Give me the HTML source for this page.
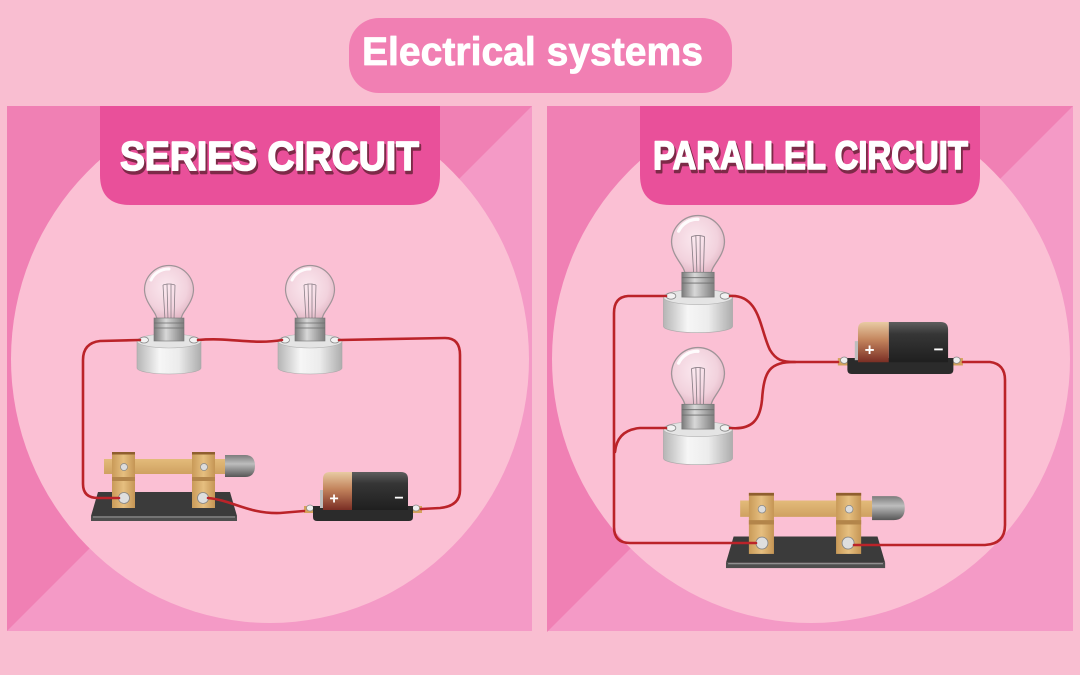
<!DOCTYPE html>
<html><head><meta charset="utf-8"><style>
html,body{margin:0;padding:0;background:#f9bed1;}
svg{display:block;}
</style></head><body>
<svg width="1080" height="675" viewBox="0 0 1080 675" xmlns="http://www.w3.org/2000/svg">
<defs>
  <linearGradient id="gBase" x1="0" x2="1" y1="0" y2="0">
    <stop offset="0" stop-color="#b5b5b5"/><stop offset=".35" stop-color="#f6f6f6"/><stop offset=".65" stop-color="#ececec"/><stop offset="1" stop-color="#adadad"/>
  </linearGradient>
  <linearGradient id="gCollar" x1="0" x2="1" y1="0" y2="0">
    <stop offset="0" stop-color="#7a7a7a"/><stop offset=".4" stop-color="#d8d8d8"/><stop offset="1" stop-color="#7e7e7e"/>
  </linearGradient>
  <radialGradient id="gGlass" cx=".45" cy=".4" r=".6">
    <stop offset="0" stop-color="#fbe8ef"/><stop offset=".7" stop-color="#f2d2dd"/><stop offset="1" stop-color="#e2b8c6"/>
  </radialGradient>
  <linearGradient id="gBrass" x1="0" x2="1" y1="0" y2="0">
    <stop offset="0" stop-color="#c99a58"/><stop offset=".5" stop-color="#e6bf80"/><stop offset="1" stop-color="#c59554"/>
  </linearGradient>
  <linearGradient id="gBar" x1="0" x2="0" y1="0" y2="1">
    <stop offset="0" stop-color="#e3bb7a"/><stop offset="1" stop-color="#cfa161"/>
  </linearGradient>
  <linearGradient id="gHandle" x1="0" x2="0" y1="0" y2="1">
    <stop offset="0" stop-color="#7c7c7c"/><stop offset=".4" stop-color="#bdbdbd"/><stop offset="1" stop-color="#565656"/>
  </linearGradient>
  <linearGradient id="gCopper" x1="0" x2="0" y1="0" y2="1">
    <stop offset="0" stop-color="#e8cba3"/><stop offset=".45" stop-color="#c2835c"/><stop offset="1" stop-color="#7a2e24"/>
  </linearGradient>
  <linearGradient id="gBlack" x1="0" x2="0" y1="0" y2="1">
    <stop offset="0" stop-color="#5e5e5e"/><stop offset=".3" stop-color="#363636"/><stop offset="1" stop-color="#1f1f1f"/>
  </linearGradient>
  <clipPath id="cpL"><rect x="7" y="106" width="525" height="525"/></clipPath>
  <clipPath id="cpR"><rect x="547" y="106" width="526" height="525"/></clipPath>

  <g id="bulb">
    <path d="M-12,-20 C-12,-28 -24,-36 -24.5,-50 A24.5,24.5 0 1 1 24.5,-50 C24,-36 12,-28 12,-20 Z" fill="url(#gGlass)" stroke="#9f9498" stroke-width="1.2"/>
    <path d="M-18,-60 A19,19 0 0 1 0,-71" fill="none" stroke="#ffffff" stroke-width="3" stroke-linecap="round" opacity=".9"/>
    <path d="M-4,-20 L-6,-55 M-1,-20 L-2,-56 M2,-20 L2,-56 M5,-20 L6,-55 M-6,-55 L-2,-56 L2,-56 L6,-55" fill="none" stroke="#8a7f87" stroke-width=".8"/>
    <path d="M-32,1 V28 A32,6 0 0 0 32,28 V1 Z" fill="url(#gBase)" stroke="#a8a8a8" stroke-width=".6"/>
    <ellipse cx="0" cy="1" rx="32" ry="7" fill="#e4e4e4" stroke="#b3b3b3" stroke-width=".6"/>
    <rect x="-15" y="-22" width="30" height="23" fill="url(#gCollar)" stroke="#767676" stroke-width=".6"/>
    <path d="M-15,-17 H15 M-15,-12 H15" stroke="#6c6c6c" stroke-width=".8"/>
    <ellipse cx="-25" cy="0" rx="4.5" ry="3" fill="#f2f2f2" stroke="#888" stroke-width=".8"/>
    <ellipse cx="25" cy="0" rx="4.5" ry="3" fill="#f2f2f2" stroke="#888" stroke-width=".8"/>
  </g>

  <g id="switch">
    <polygon points="98,492 230,492 237,516 91,516" fill="#3b3b3b"/>
    <rect x="91" y="516" width="146" height="5" fill="#4e4e4e"/>
    <line x1="93" y1="517" x2="235" y2="517" stroke="#9a9a9a" stroke-width="1"/>
    <rect x="104" y="459" width="121" height="15" fill="url(#gBar)"/>
    <path d="M225,455 H245 Q255,455 255,466 Q255,477 245,477 H225 Z" fill="url(#gHandle)"/>
    <rect x="112" y="452" width="23" height="56" fill="url(#gBrass)"/>
    <rect x="192" y="452" width="23" height="56" fill="url(#gBrass)"/>
    <rect x="112" y="452" width="23" height="2.5" fill="#8f5f2e"/>
    <rect x="192" y="452" width="23" height="2.5" fill="#8f5f2e"/>
    <rect x="112" y="477" width="23" height="4" fill="#b3854a"/>
    <rect x="192" y="477" width="23" height="4" fill="#b3854a"/>
    <circle cx="124" cy="467" r="3.5" fill="#dcdcdc" stroke="#888" stroke-width=".7"/>
    <circle cx="204" cy="467" r="3.5" fill="#dcdcdc" stroke="#888" stroke-width=".7"/>
    <circle cx="124" cy="498" r="5.5" fill="#dedede" stroke="#858585" stroke-width=".8"/>
    <circle cx="203" cy="498" r="5.5" fill="#dedede" stroke="#858585" stroke-width=".8"/>
  </g>

  <g id="batt">
    <rect x="304" y="506" width="12" height="7" fill="#d4a25c"/>
    <rect x="410" y="506" width="12" height="7" fill="#d4a25c"/>
    <ellipse cx="310" cy="508" rx="3.5" ry="3" fill="#eeeeee" stroke="#888" stroke-width=".7"/>
    <ellipse cx="416" cy="508" rx="3.5" ry="3" fill="#eeeeee" stroke="#888" stroke-width=".7"/>
    <path d="M313,506 H413 V517 Q413,521 409,521 H317 Q313,521 313,517 Z" fill="#2b2b2b"/>
    <path d="M352,472 H401 Q408,472 408,479 V510 H352 Z" fill="url(#gBlack)"/>
    <path d="M330,472 H352 V510 H323 V479 Q323,472 330,472 Z" fill="url(#gCopper)"/>
    <rect x="320" y="490" width="3" height="18" fill="#bdbdbd"/>
    <text x="334" y="503.5" font-family="Liberation Sans, sans-serif" font-weight="bold" font-size="16" fill="#ffffff" text-anchor="middle">+</text>
    <text x="399" y="503" font-family="Liberation Sans, sans-serif" font-weight="bold" font-size="16" fill="#ffffff" text-anchor="middle">−</text>
  </g>
</defs>

<!-- background -->
<rect x="0" y="0" width="1080" height="675" fill="#f9bed1"/>

<!-- title -->
<rect x="349" y="18" width="383" height="75" rx="30" fill="#f17fb3"/>
<text x="362" y="65" font-family="Liberation Sans, sans-serif" font-weight="bold" font-size="40" fill="#ffffff" stroke="#ffffff" stroke-width="0.8" stroke-linejoin="round" textLength="341" lengthAdjust="spacingAndGlyphs">Electrical systems</text>

<!-- left panel -->
<rect x="7" y="106" width="525" height="525" fill="#f49ac6"/>
<polygon points="7,106 532,106 7,631" fill="#f080b4"/>
<g clip-path="url(#cpL)"><ellipse cx="270" cy="359" rx="259" ry="264" fill="#fbc0d4"/></g>
<path d="M100,106 H440 V175 Q440,205 410,205 H130 Q100,205 100,175 Z" fill="#e9509a"/>
<text x="121.5" y="173" font-family="Liberation Sans, sans-serif" font-weight="bold" font-size="41" fill="#7d2a48" stroke="#7d2a48" stroke-width="2.5" stroke-linejoin="round" textLength="299" lengthAdjust="spacingAndGlyphs">SERIES CIRCUIT</text>
<text x="120" y="170" font-family="Liberation Sans, sans-serif" font-weight="bold" font-size="41" fill="#ffffff" stroke="#ffffff" stroke-width="1.6" stroke-linejoin="round" textLength="299" lengthAdjust="spacingAndGlyphs">SERIES CIRCUIT</text>

<!-- right panel -->
<rect x="547" y="106" width="526" height="525" fill="#f49ac6"/>
<polygon points="547,106 1073,106 547,632" fill="#f080b4"/>
<g clip-path="url(#cpR)"><ellipse cx="811" cy="359" rx="259" ry="264" fill="#fbc0d4"/></g>
<path d="M640,106 H980 V175 Q980,205 950,205 H670 Q640,205 640,175 Z" fill="#e9509a"/>
<text x="654.5" y="172" font-family="Liberation Sans, sans-serif" font-weight="bold" font-size="40" fill="#7d2a48" stroke="#7d2a48" stroke-width="2.5" stroke-linejoin="round" textLength="315" lengthAdjust="spacingAndGlyphs">PARALLEL CIRCUIT</text>
<text x="653" y="169" font-family="Liberation Sans, sans-serif" font-weight="bold" font-size="40" fill="#ffffff" stroke="#ffffff" stroke-width="1.6" stroke-linejoin="round" textLength="315" lengthAdjust="spacingAndGlyphs">PARALLEL CIRCUIT</text>

<!-- left components -->
<use href="#bulb" transform="translate(169,340)"/>
<use href="#bulb" transform="translate(310,340)"/>
<use href="#switch"/>
<use href="#batt"/>

<!-- right components -->
<use href="#bulb" transform="translate(698,296) scale(1.08)"/>
<use href="#bulb" transform="translate(698,428) scale(1.08)"/>
<use href="#switch" transform="translate(626.8,0.2) scale(1.09)"/>
<use href="#batt" transform="translate(515.6,-178.3) scale(1.06)"/>

<!-- wires -->
<g fill="none" stroke="#bb2329" stroke-width="2.6" stroke-linecap="round" stroke-linejoin="round">
  <!-- left panel -->
  <path d="M140,340 L100,341 Q83,343 83,360 L83,484 Q83,498 98,498 L119,498"/>
  <path d="M198,340 C230,337 252,345 282,340"/>
  <path d="M339,340 L445,338 Q460,338 460,355 L460,490 Q460,506 440,508 L421,509"/>
  <path d="M208,498 C232,500 248,514 280,513 L304,511"/>
  <!-- right panel -->
  <path d="M666,296 L628,296 Q614,297 614,313 L614,527 Q614,543 630,543 L756,543"/>
  <path d="M666,428 L640,428 Q617,430 615,452"/>
  <path d="M730,296 C760,294 760,330 770,350 C776,360 782,362 795,362 L838,362"/>
  <path d="M730,428 C752,430 760,420 762,400 C764,370 770,362 795,362"/>
  <path d="M963,362 L990,362 Q1005,364 1005,380 L1005,525 Q1005,544 985,545 L854,545"/>
</g>
</svg>
</body></html>
